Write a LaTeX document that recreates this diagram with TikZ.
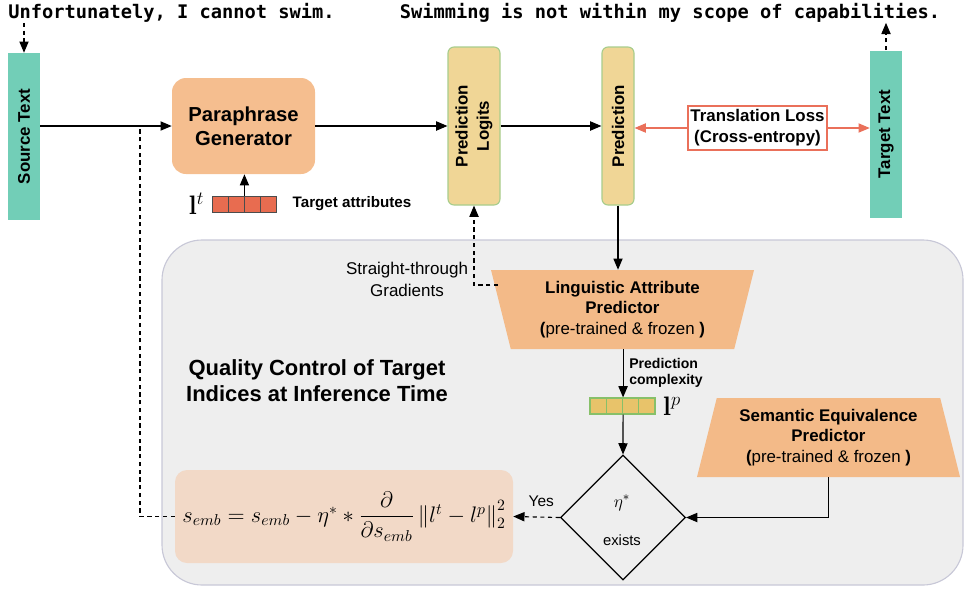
\documentclass[tikz,border=0pt]{standalone}
\usepackage{fix-cm}
\usepackage{amsmath}
\usepackage[no-math]{fontspec}
\setmainfont{Liberation Sans}
\setmonofont{DejaVu Sans Mono}
\newfontfamily\vecfont{Latin Modern Roman}
\usetikzlibrary{arrows.meta,positioning,shapes.geometric}
\definecolor{textteal}{RGB}{114,206,183}
\definecolor{paraorange}{RGB}{245,190,143}
\definecolor{predorange}{RGB}{243,186,136}
\definecolor{logityellow}{RGB}{240,214,150}
\definecolor{logitgreen}{RGB}{168,205,140}
\definecolor{cellred}{RGB}{232,108,80}
\definecolor{cellyellow}{RGB}{232,195,106}
\definecolor{cellgreen}{RGB}{135,192,105}
\definecolor{lossred}{RGB}{234,112,90}
\definecolor{panelgray}{RGB}{238,238,238}
\definecolor{paneledge}{RGB}{200,200,215}
\definecolor{formulapeach}{RGB}{242,217,199}
\newdimen\pxu
\pxu=0.25mm
\begin{document}
\begin{tikzpicture}[x=0.25mm,y=-0.25mm,
  every node/.style={inner sep=0pt},
  arr/.style={-{Triangle[length=2.8mm,width=2.3mm]},line width=0.8pt},
  dasharr/.style={arr,dash pattern=on 3pt off 2.5pt},
  dashline/.style={line width=0.8pt,dash pattern=on 3pt off 2.5pt},
  lossarr/.style={arr,color=lossred},
  sentence/.style={font=\fontsize{13.3}{16}\selectfont\ttfamily\bfseries},
  textbar/.style={fill=textteal,minimum width=32\pxu,minimum height=167\pxu,font=\fontsize{12}{14.5}\selectfont\bfseries},
  genbox/.style={fill=paraorange,rounded corners=3.5mm,minimum width=143\pxu,minimum height=96\pxu,align=center,font=\fontsize{14.4}{17}\selectfont\bfseries},
  predbar/.style={fill=logityellow,draw=logitgreen,line width=0.8pt,rounded corners=1.5mm,minimum height=158\pxu,font=\fontsize{12}{15}\selectfont\bfseries},
  lossbox/.style={fill=white,draw=lossred,line width=0.8pt,minimum width=139\pxu,minimum height=44\pxu,align=center,font=\fontsize{12}{15}\selectfont\bfseries},
  redcell/.style={fill=cellred,draw=black!70,line width=0.6pt,minimum width=16\pxu,minimum height=16\pxu},
  yellowcell/.style={fill=cellyellow,draw=cellgreen,line width=0.8pt,minimum width=16.25\pxu,minimum height=16\pxu},
  panel/.style={fill=panelgray,draw=paneledge,line width=0.8pt,rounded corners=10mm,minimum width=801\pxu,minimum height=345\pxu},
  predictor/.style={trapezium,trapezium angle=70.8,trapezium stretches body,fill=predorange,minimum width=263\pxu,minimum height=79\pxu,align=center,font=\fontsize{12}{14.6}\selectfont},
  formulabox/.style={fill=formulapeach,rounded corners=3mm,minimum width=338\pxu,minimum height=93\pxu,font=\fontsize{16}{19}\selectfont},
  titletext/.style={align=center,font=\fontsize{15.6}{18.5}\selectfont\bfseries},
  vecname/.style={font=\fontsize{19}{22}\selectfont},
  smalltext/.style={font=\fontsize{10.5}{12}\selectfont}
]
\useasboundingbox (0,0) rectangle (965,592);
\node[panel] (qcpanel) at (562.5,412.5) {};
\node[sentence] (srcsent) at (171.5,13) {Unfortunately, I cannot swim.};
\node[sentence] (tgtsent) at (670,13) {Swimming is not within my scope of capabilities.};
\node[textbar] (src) at (24,136.5) {\rotatebox{90}{Source Text}};
\node[textbar] (tgt) at (886,134) {\rotatebox{90}{Target Text}};
\node[genbox] (para) at (243.5,126) {Paraphrase\\Generator};
\node[predbar,minimum width=52\pxu] (logits) at (474,126) {\rotatebox{90}{\begin{tabular}{@{}c@{}}Prediction\\Logits\end{tabular}}};
\node[predbar,minimum width=32\pxu] (pred) at (618,126) {\rotatebox{90}{Prediction}};
\node[lossbox] (loss) at (757.5,128) {Translation Loss\\(Cross-entropy)};
\foreach \i in {0,...,3}
  \node[redcell] (t\i) at (220+16*\i,204) {};
\node[vecname,left=7\pxu of t0] (ltlbl) {{\vecfont\bfseries l}$^t$};
\node[right=16\pxu of t3,font=\fontsize{10.8}{13}\selectfont\bfseries] (tattr) {Target attributes};
\node[predictor,shape border rotate=180] (lap) at (622.5,309.5) {\textbf{Linguistic Attribute}\\\textbf{Predictor}\\\textbf{(}pre-trained \& frozen \textbf{)}};
\node[predictor] (sep) at (828.5,437.5) {\textbf{Semantic Equivalence}\\\textbf{Predictor}\\\textbf{(}pre-trained \& frozen \textbf{)}};
\foreach \i in {0,...,3}
  \node[yellowcell] (lp\i) at (598.125+16.25*\i,406) {};
\node[vecname,right=7\pxu of lp3] (lplbl) {{\vecfont\bfseries l}$^p$};
\node[anchor=west,align=left,font=\fontsize{10}{11.4}\selectfont\bfseries] (cmplx) at (629,373) {Prediction\\complexity};
\node[draw,diamond,aspect=1,minimum width=125\pxu,minimum height=125\pxu,line width=0.8pt] (dia) at (623,517.5) {};
\node[font=\fontsize{12.5}{14}\selectfont] (etalbl) at (622,503) {$\eta^*$};
\node[smalltext] (existlbl) at (622,540) {exists};
\node[formulabox] (update) at (344,516.5) {$s_{emb} = s_{emb} - \eta^{*} * \dfrac{\partial}{\partial s_{emb}} \left\| l^{t} - l^{p} \right\|_{2}^{2}$};
\node[titletext] (qctitle) at (317,381) {Quality Control of Target\\Indices at Inference Time};
\node[align=center,font=\fontsize{12.1}{15.6}\selectfont] (stg) at (407,279) {Straight-through\\Gradients};
\coordinate (jn) at (140,126);
\coordinate (gradfrom) at (498,285);
\draw[dasharr] (src.north |- srcsent.south) -- (src.north);
\draw[dasharr] (tgt.north) -- (tgt.north |- tgtsent.south);
\draw[arr] (src.east |- para.west) -- (para.west);
\draw[dashline] (update.west) -| (jn);
\draw[arr] (t1.north east) -- (t1.north east |- para.south);
\draw[arr] (para.east) -- (para.east -| logits.west);
\draw[arr] (logits.east |- pred.west) -- (pred.west);
\draw[lossarr] (loss.west) -- (loss.west -| pred.east);
\draw[lossarr] (loss.east) -- (loss.east -| tgt.west);
\draw[arr] (pred.south) -- (pred.south |- lap.north);
\draw[dasharr] (gradfrom) -| (logits.south);
\draw[arr] (lp1.north east |- lap.south) -- (lp1.north east);
\draw[arr] (lp1.south east) -- (dia.north);
\draw[arr] (sep.south) |- (dia.east);
\draw[dasharr] (dia.west) -- node[pos=0.4,above=10\pxu,font=\fontsize{11}{13}\selectfont] (yeslbl) {Yes} (update.east);
\end{tikzpicture}
\end{document}
